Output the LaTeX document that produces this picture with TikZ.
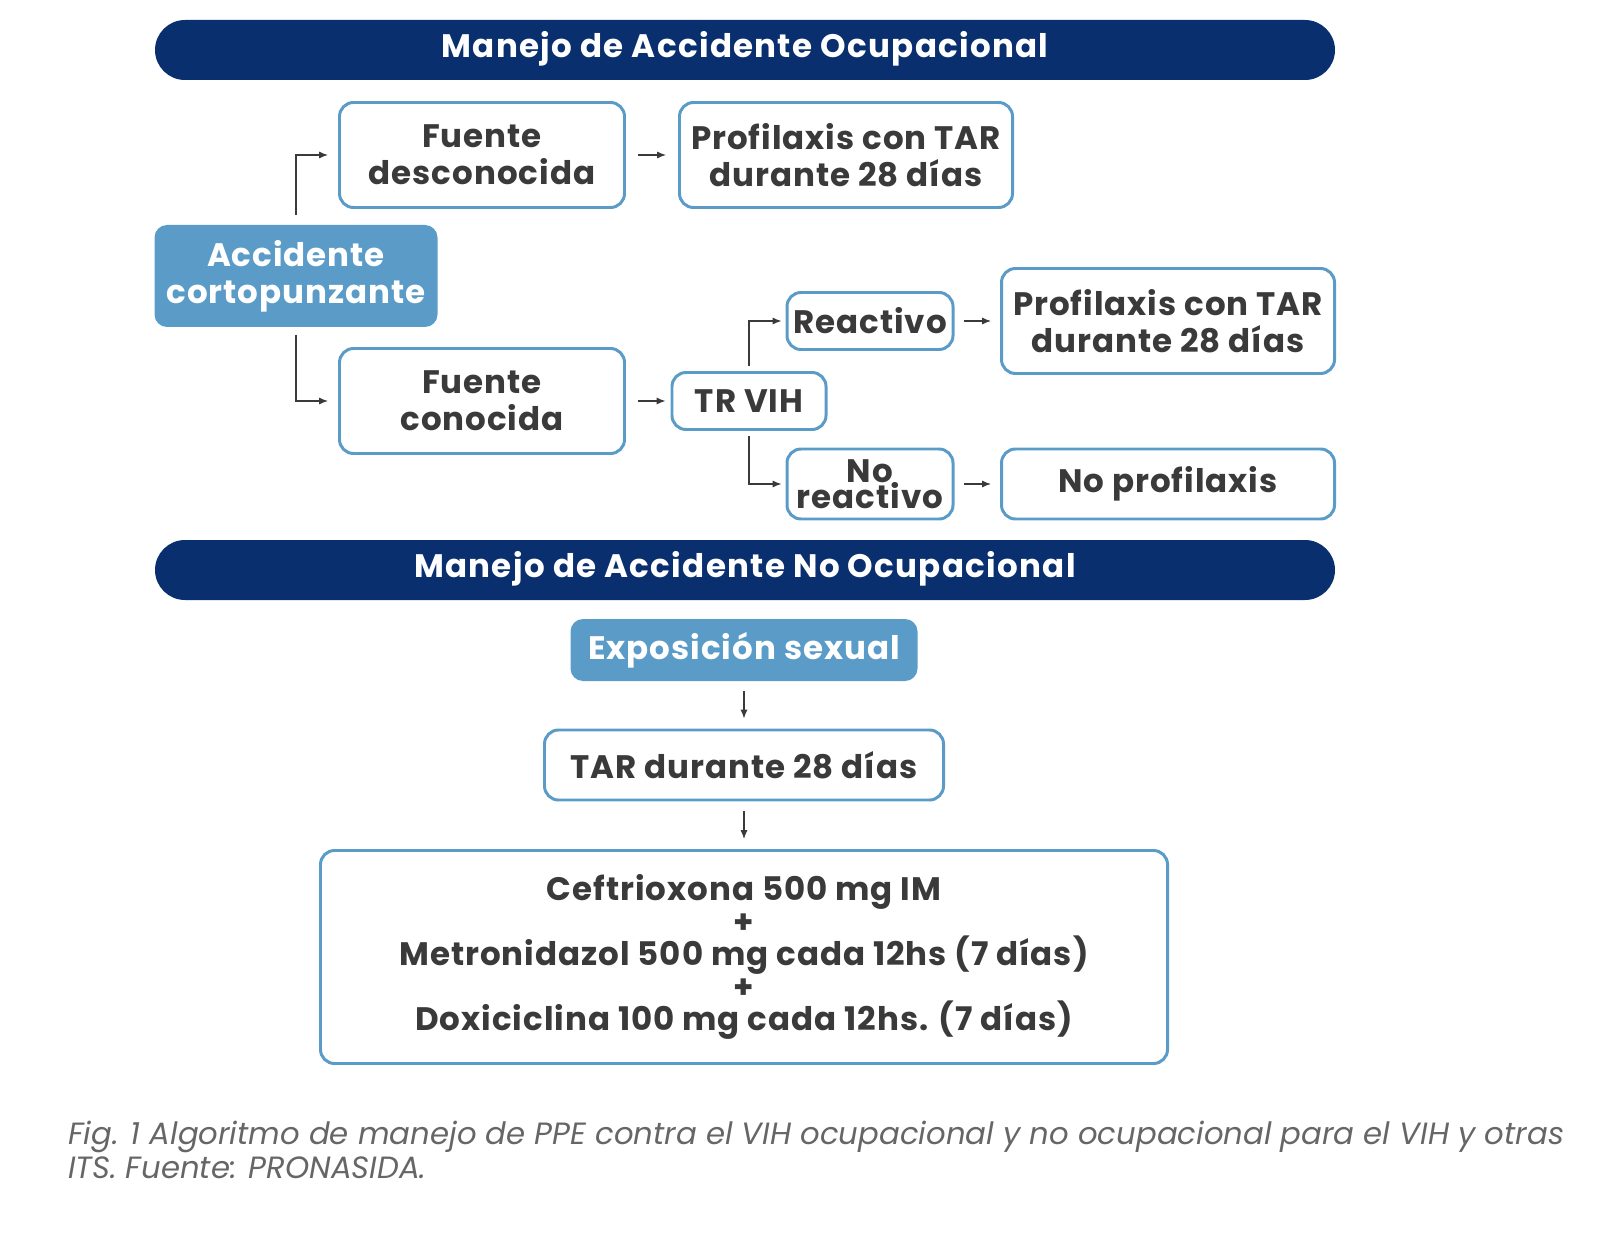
\documentclass[tikz,border=0pt]{standalone}
\usepackage{fontspec}
\setmainfont{Poppins}
\usetikzlibrary{arrows.meta}
\definecolor{navy}{HTML}{0A2F6E}
\definecolor{lb}{HTML}{5B9BC8}
\definecolor{txt}{HTML}{3A3A3A}
\begin{document}
\begin{tikzpicture}[x=0.02cm,y=-0.02cm,
 hdr/.style={fill=navy,rounded corners=0.6cm},
 htxt/.style={text=white,font=\addfontfeature{LetterSpace=4}\fontsize{18.5}{20}\selectfont\bfseries},
 box/.style={draw=lb,line width=1.7pt,rounded corners=0.28cm,fill=white,text=txt,align=center,font=\addfontfeature{LetterSpace=3}\fontsize{18.5}{21}\selectfont\bfseries},
 fbox/.style={fill=lb,rounded corners=0.25cm,text=white,align=center,font=\addfontfeature{LetterSpace=3}\fontsize{18.5}{21}\selectfont\bfseries},
 ar/.style={-{Latex[length=5pt,width=4pt]},line width=0.7pt,draw=txt}]
\useasboundingbox (0,0) rectangle (1600,1233);
\path[hdr] (155,20) rectangle (1335,80);
\node[htxt] (h1) at (745,49) {Manejo de Accidente Ocupacional};
\path[hdr] (155,540) rectangle (1335,600);
\node[htxt] (h2) at (745,569) {Manejo de Accidente No Ocupacional};
\node[fbox,minimum width=283*0.02cm,minimum height=102*0.02cm] (acc) at (296,276) {Accidente\\cortopunzante};
\node[box,minimum width=285*0.02cm,minimum height=105*0.02cm] (fd) at (482,155) {Fuente\\desconocida};
\node[box,minimum width=333*0.02cm,minimum height=105*0.02cm] (p1) at (846,155) {Profilaxis con TAR\\durante 28 días};
\node[box,minimum width=285*0.02cm,minimum height=105*0.02cm] (fc) at (482,401) {Fuente\\conocida};
\node[box,minimum width=154*0.02cm,minimum height=57*0.02cm] (tr) at (749,401) {TR VIH};
\node[box,minimum width=166*0.02cm,minimum height=57*0.02cm] (re) at (870,321) {Reactivo};
\node[box,minimum width=166*0.02cm,minimum height=70*0.02cm,inner sep=1pt,font=\addfontfeature{LetterSpace=3}\fontsize{18.5}{15}\selectfont\bfseries] (nr) at (870,484) {No\\reactivo};
\node[box,minimum width=333*0.02cm,minimum height=105*0.02cm] (p2) at (1168,321) {Profilaxis con TAR\\durante 28 días};
\node[box,minimum width=333*0.02cm,minimum height=70*0.02cm] (np) at (1168,484) {No profilaxis};
\node[fbox,minimum width=347*0.02cm,minimum height=62*0.02cm] (es) at (744,650) {Exposición sexual};
\node[box,minimum width=399*0.02cm,minimum height=70*0.02cm] (tar) at (744,765) {TAR durante 28 días};
\node[box,minimum width=847*0.02cm,minimum height=213*0.02cm,font=\addfontfeature{LetterSpace=3}\fontsize{18.5}{18.5}\selectfont\bfseries] (big) at (744,957) {Ceftrioxona 500 mg IM\\+\\Metronidazol 500 mg cada 12hs (7 días)\\+\\Doxiciclina 100 mg cada 12hs. (7 días)};
\coordinate (c1) at (296,215);
\coordinate (c2) at (296,335);
\draw[ar] (c1) |- ([xshift=-0.2cm]fd.west);
\draw[ar] (c2) |- ([xshift=-0.2cm]fc.west);
\draw[ar] ([xshift=0.24cm]fd.east) -- ([xshift=-0.24cm]p1.west);
\draw[ar] ([xshift=0.24cm]fc.east) -- ([xshift=-0.1cm]tr.west);
\draw[ar] ([yshift=0.1cm]tr.north) |- ([xshift=-0.08cm]re.west);
\draw[ar] ([yshift=-0.1cm]tr.south) |- ([xshift=-0.08cm]nr.west);
\draw[ar] ([xshift=0.18cm]re.east) -- ([xshift=-0.18cm]p2.west);
\draw[ar] ([xshift=0.18cm]nr.east) -- ([xshift=-0.18cm]np.west);
\draw[ar] ([yshift=-0.2cm]es.south) -- ([yshift=0.2cm]tar.north);
\draw[ar] ([yshift=-0.2cm]tar.south) -- ([yshift=0.2cm]big.north);
\node[anchor=west,align=left,text=gray!80!black,font=\fontsize{17.5}{19}\selectfont\itshape] (cap) at (62,1150) {Fig. 1 Algoritmo de manejo de PPE contra el VIH ocupacional y no ocupacional para el VIH y otras\\ITS. Fuente: PRONASIDA.};
\end{tikzpicture}
\end{document}
